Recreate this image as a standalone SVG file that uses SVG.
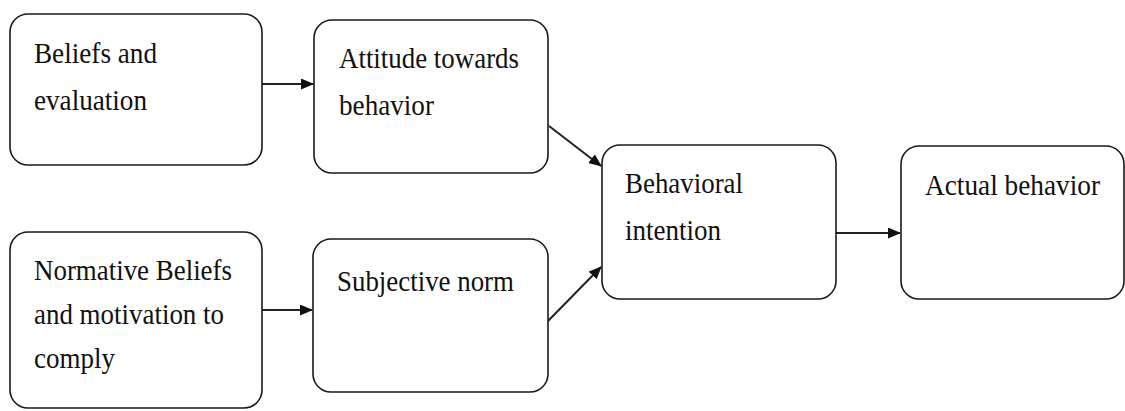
<svg xmlns="http://www.w3.org/2000/svg" width="1125" height="411" viewBox="0 0 1125 411">
<style>
.box{fill:#fff;stroke:#1a1a1a;stroke-width:1.6}
.t{font-family:"Liberation Serif","Times New Roman",serif;font-size:29px;fill:#111}
.c{stroke:#222;stroke-width:2;fill:none}
</style>
<defs>
<marker id="ah" viewBox="0 0 13 11" refX="12" refY="5.5" markerWidth="13" markerHeight="11" markerUnits="userSpaceOnUse" orient="auto">
<path d="M0,0 L13,5.5 L0,11 Z" fill="#111"/>
</marker>
</defs>
<rect width="1125" height="411" fill="#fff"/>
<g id="connectors">
<line class="c" x1="262" y1="84" x2="313" y2="84" marker-end="url(#ah)"/>
<line class="c" x1="262" y1="310" x2="312" y2="310" marker-end="url(#ah)"/>
<line class="c" x1="549" y1="126" x2="601" y2="166" marker-end="url(#ah)"/>
<line class="c" x1="548" y1="321" x2="601" y2="267" marker-end="url(#ah)"/>
<line class="c" x1="836" y1="233" x2="900" y2="233" marker-end="url(#ah)"/>
</g>
<g id="beliefs">
<rect class="box" x="10" y="14" width="252" height="151" rx="18"/>
<text class="t" x="34" y="63" textLength="123" lengthAdjust="spacingAndGlyphs">Beliefs and</text>
<text class="t" x="34" y="110" textLength="113" lengthAdjust="spacingAndGlyphs">evaluation</text>
</g>
<g id="attitude">
<rect class="box" x="314" y="20" width="234" height="153" rx="18"/>
<text class="t" x="339" y="68" textLength="180" lengthAdjust="spacingAndGlyphs">Attitude towards</text>
<text class="t" x="339" y="115" textLength="95" lengthAdjust="spacingAndGlyphs">behavior</text>
</g>
<g id="normative">
<rect class="box" x="10" y="232" width="252" height="176" rx="18"/>
<text class="t" x="34" y="280" textLength="198" lengthAdjust="spacingAndGlyphs">Normative Beliefs</text>
<text class="t" x="34" y="324" textLength="190" lengthAdjust="spacingAndGlyphs">and motivation to</text>
<text class="t" x="34" y="368" textLength="81" lengthAdjust="spacingAndGlyphs">comply</text>
</g>
<g id="subjective">
<rect class="box" x="313" y="239" width="235" height="153" rx="18"/>
<text class="t" x="337" y="291" textLength="177" lengthAdjust="spacingAndGlyphs">Subjective norm</text>
</g>
<g id="intention">
<rect class="box" x="602" y="145" width="234" height="154" rx="18"/>
<text class="t" x="625" y="193" textLength="118" lengthAdjust="spacingAndGlyphs">Behavioral</text>
<text class="t" x="625" y="240" textLength="96" lengthAdjust="spacingAndGlyphs">intention</text>
</g>
<g id="actual">
<rect class="box" x="901" y="146" width="223" height="153" rx="18"/>
<text class="t" x="925" y="195" textLength="175" lengthAdjust="spacingAndGlyphs">Actual behavior</text>
</g>
</svg>
